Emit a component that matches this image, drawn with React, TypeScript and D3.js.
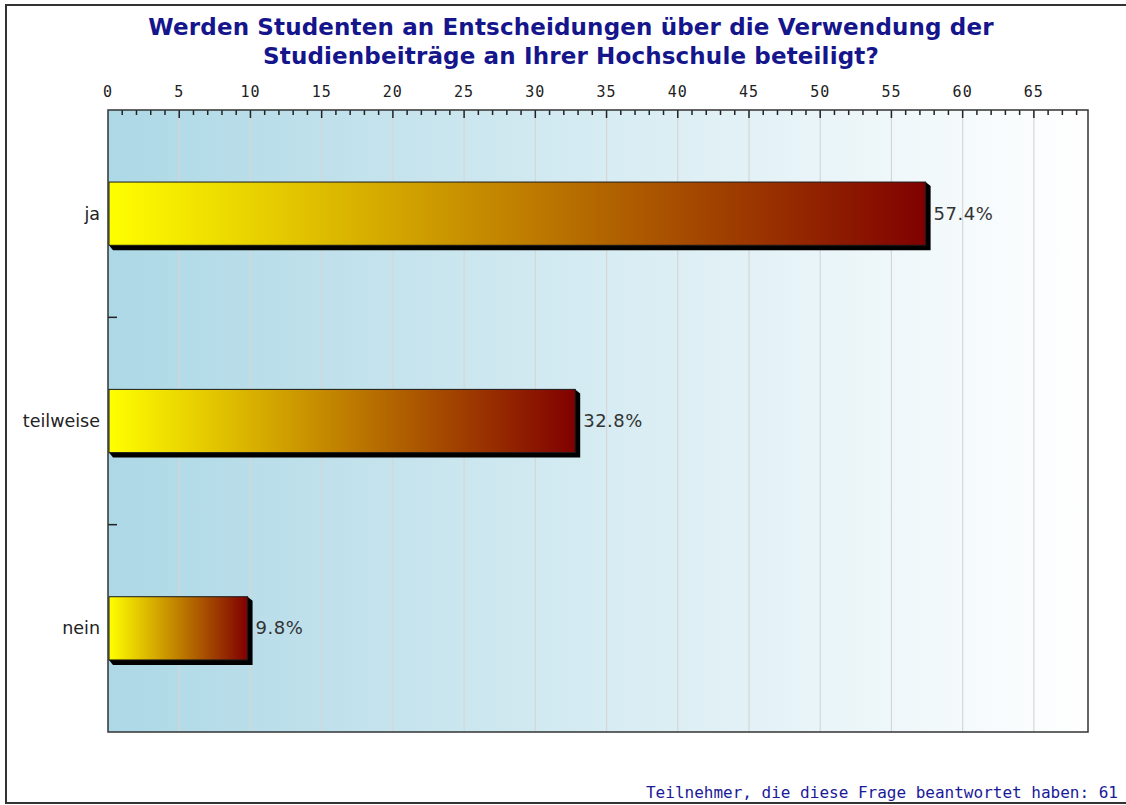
import React from 'react';
import * as d3 from 'd3';

// survey answers and their share in percent
const categories = ['ja', 'teilweise', 'nein'];
const percents = [57.4, 32.8, 9.8];
const majorTicks = [0, 5, 10, 15, 20, 25, 30, 35, 40, 45, 50, 55, 60, 65];
const minorTicks = d3.range(1, 69);

const titleLines = [
  'Werden Studenten an Entscheidungen über die Verwendung der',
  'Studienbeiträge an Ihrer Hochschule beteiligt?'
];
const footer = 'Teilnehmer, die diese Frage beantwortet haben: 61';

const W = 1126;
const H = 805;
const plot = { left: 108, top: 110, right: 1088, bottom: 732 };

export default function App() {
  const x = d3.scaleLinear().domain([0, 68.8]).range([plot.left, plot.right]);
  const y = d3.scaleBand().domain(categories).range([plot.top, plot.bottom]).padding(0);
  const barH = y.bandwidth() * 0.305;

  const data = categories.map((c, i) => ({ cat: c, val: percents[i] }));

  return (
    <svg width={W} height={H} style={{ position: 'absolute', left: 0, top: 0 }}>
      <defs>
        <linearGradient id="bg" x1="0" x2="1" y1="0" y2="0">
          <stop offset="0%" stopColor="#add8e6" />
          <stop offset="100%" stopColor="#ffffff" />
        </linearGradient>
        <linearGradient id="bar" x1="0" x2="1" y1="0" y2="0">
          <stop offset="0%" stopColor="#ffff00" />
          <stop offset="100%" stopColor="#800000" />
        </linearGradient>
      </defs>

      <rect x={0} y={0} width={W} height={H} fill="#fff" />
      <rect x={6} y={5} width={1130} height={798} fill="none" stroke="#333" strokeWidth={2} />

      {titleLines.map((t, i) => (
        <text key={i} x={571} y={35 + i * 29} textAnchor="middle" letterSpacing={0.15}
          fontFamily="DejaVu Sans" fontWeight="bold" fontSize={23} fill="#15158c">{t}</text>
      ))}

      <rect x={plot.left} y={plot.top} width={plot.right - plot.left} height={plot.bottom - plot.top}
        fill="url(#bg)" />

      {majorTicks.filter(d => d > 0).map(d => (
        <line key={'g' + d} x1={x(d)} x2={x(d)} y1={plot.top} y2={plot.bottom}
          stroke="#d6d6d6" strokeWidth={1.2} />
      ))}

      {minorTicks.map(d => (
        <line key={'m' + d} x1={x(d)} x2={x(d)} y1={plot.top} y2={plot.top + (d % 5 === 0 ? 8 : 5)}
          stroke="#222" strokeWidth={1.5} />
      ))}

      {majorTicks.map(d => (
        <text key={'t' + d} x={x(d)} y={97} textAnchor="middle" letterSpacing={1}
          fontFamily="DejaVu Sans Mono" fontSize={15} fill="#222">{d}</text>
      ))}

      {categories.slice(1).map(c => (
        <line key={'yt' + c} x1={plot.left} x2={plot.left + 9} y1={y(c)} y2={y(c)}
          stroke="#222" strokeWidth={1.5} />
      ))}

      {data.map(d => {
        const y0 = y(d.cat)! + (y.bandwidth() - barH) / 2;
        const y1 = y0 + barH;
        const x0 = x(0) + 1;
        const x1 = x(d.val);
        const shadow = [
          [x1, y0], [x1 + 5, y0 + 4], [x1 + 5, y1 + 5], [x0 + 4, y1 + 5], [x0, y1]
        ].map(p => p.join(',')).join(' ');
        return (
          <g key={d.cat}>
            <polygon points={shadow} fill="#000" />
            <rect x={x0} y={y0} width={x1 - x0} height={barH} fill="url(#bar)" stroke="#1a1a1a" strokeWidth={1} />
            <text x={x1 + 8} y={(y0 + y1) / 2 + 6} fontFamily="DejaVu Sans" fontSize={18}
              letterSpacing={0.5} fill="#333">
              {d.val.toFixed(1)}%
            </text>
            <text x={plot.left - 8} y={y(d.cat)! + y.bandwidth() / 2 + 6} textAnchor="end"
              fontFamily="DejaVu Sans" fontSize={17.5} fill="#222">{d.cat}</text>
          </g>
        );
      })}

      <rect x={plot.left} y={plot.top} width={plot.right - plot.left} height={plot.bottom - plot.top}
        fill="none" stroke="#333" strokeWidth={1.5} />

      <text x={1118} y={798} textAnchor="end" fontFamily="DejaVu Sans Mono" fontSize={16}
        fill="#1a1a99">{footer}</text>
    </svg>
  );
}
